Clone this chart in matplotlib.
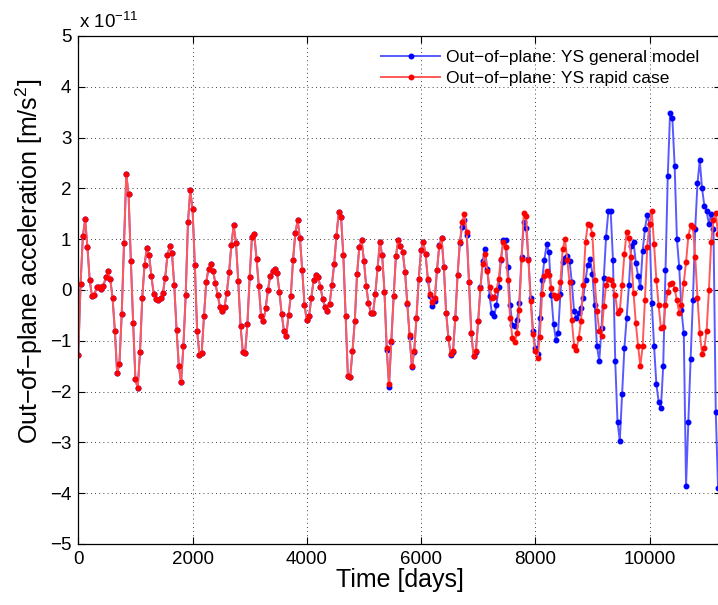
import numpy as np
import matplotlib
matplotlib.use("Agg")
import matplotlib.pyplot as plt

plt.rcParams["font.family"] = ["Liberation Sans", "DejaVu Sans"]
plt.rcParams["mathtext.fontset"] = "custom"
plt.rcParams["mathtext.rm"] = "Liberation Sans"
plt.rcParams["mathtext.it"] = "Liberation Sans:italic"

# sampling step of the time series [days]
STEP = 40

# out-of-plane acceleration [1e-11 m/s^2], both solutions identical up to day 5200
common = [
    -1.27, 0.12, 1.06, 1.39, 0.84, 0.19, -0.12, -0.10, 0.05, 0.06,
    0.01, 0.08, 0.25, 0.37, 0.21, -0.16, -0.80, -1.64, -1.45, -0.48,
    0.93, 2.28, 1.88, 0.58, -0.64, -1.76, -1.93, -1.23, -0.15, 0.50,
    0.82, 0.68, 0.27, -0.08, -0.18, -0.19, -0.16, -0.06, 0.23, 0.68,
    0.86, 0.72, 0.09, -0.78, -1.50, -1.82, -1.10, -0.10, 1.33, 1.96,
    1.60, 0.50, -0.80, -1.27, -1.24, -0.52, 0.16, 0.42, 0.51, 0.38,
    0.13, -0.10, -0.33, -0.41, -0.33, -0.05, 0.35, 0.89, 1.27, 0.93,
    0.18, -0.70, -1.22, -1.24, -0.67, 0.25, 1.05, 1.10, 0.62, 0.08,
    -0.51, -0.62, -0.36, 0.00, 0.28, 0.38, 0.42, 0.33, -0.03, -0.47,
    -0.80, -0.90, -0.50, -0.12, 0.60, 1.13, 1.37, 1.02, 0.40, -0.29,
    -0.60, -0.52, -0.15, 0.20, 0.30, 0.25, 0.05, -0.18, -0.33, -0.41,
    -0.27, 0.10, 0.52, 1.07, 1.54, 1.44, 0.68, -0.52, -1.70, -1.72,
    -1.20, -0.62, 0.31, 0.85, 0.98, 0.58, 0.08, -0.25, -0.45, -0.45,
    -0.07,
]

# from day 5240 on
general_tail = [
    0.44, 0.95, 0.68, -0.03, -1.18, -1.90, -1.02, -0.12, 0.66, 0.98,
    0.87, 0.74, 0.36, -0.28, -0.92, -1.52, -1.22, -0.55, 0.22, 0.78,
    0.94, 0.70, 0.20, -0.12, -0.31, -0.22, 0.40, 0.88, 1.03, 0.45,
    -0.45, -0.95, -1.28, -1.22, -0.55, 0.30, 0.92, 1.25, 1.38, 1.08,
    0.15, -0.85, -1.30, -1.22, -0.62, 0.05, 0.58, 0.80, 0.42, -0.12,
    -0.45, -0.51, -0.30, 0.05, 0.60, 0.98, 0.98, 0.45, -0.30, -0.68,
    -0.71, -0.60, -0.25, 0.65, 1.33, 1.22, 0.62, -0.15, -0.80, -1.15,
    -1.25, -0.55, 0.20, 0.60, 0.90, 0.75, -0.10, -0.66, -0.98, -0.85,
    -0.08, 0.55, 0.63, 0.67, 0.58, 0.15, -0.42, -0.55, -0.46, -0.35,
    -0.15, 0.20, 0.50, 0.62, 0.32, -0.30, -1.10, -1.40, -0.75, 0.24,
    1.05, 1.55, 1.56, 0.60, -1.40, -2.60, -2.97, -2.05, -1.15, -0.55,
    0.10, 0.87, 0.95, 0.54, 0.28, 0.05, 0.77, 1.20, 1.48, 1.30,
    -0.25, -1.10, -1.85, -2.20, -2.32, -1.50, 0.40, 2.25, 3.48, 3.38,
    2.45, 1.00, 0.45, -0.40, -0.85, -3.85, -2.60, -1.35, -0.20, 1.20,
    2.10, 2.55, 2.00, 1.66, 1.55, 1.30, 1.50, 1.20, -2.40, -3.90,
]

rapid_tail = [
    0.44, 0.95, 0.68, -0.03, -1.15, -1.85, -1.00, -0.12, 0.66, 0.98,
    0.87, 0.74, 0.36, -0.26, -0.89, -1.50, -1.20, -0.55, 0.22, 0.78,
    0.94, 0.70, 0.22, -0.08, -0.23, -0.15, 0.40, 0.87, 1.02, 0.45,
    -0.45, -0.95, -1.26, -1.20, -0.55, 0.30, 0.95, 1.33, 1.50, 1.15,
    0.15, -0.85, -1.30, -1.20, -0.62, 0.03, 0.52, 0.70, 0.38, 0.05,
    -0.15, -0.14, 0.00, 0.22, 0.62, 0.95, 0.85, 0.20, -0.55, -0.94,
    -1.03, -0.84, -0.40, 0.62, 1.52, 1.45, 0.60, -0.22, -0.86, -1.20,
    -1.34, -0.92, -0.07, 0.28, 0.38, 0.30, 0.03, -0.10, -0.15, -0.12,
    0.15, 0.80, 1.00, 0.60, 0.15, -0.60, -1.10, -1.18, -0.95, -0.62,
    0.10, 0.95, 1.30, 1.28, 1.10, 0.20, -0.42, -0.80, -0.90, -0.32,
    0.10, 0.21, 0.20, 0.09, -0.10, -0.45, -0.40, 0.10, 0.70, 1.15,
    1.03, 0.64, -0.05, -0.65, -1.10, -1.50, -1.10, -0.20, 0.85, 1.30,
    1.55, 0.90, 0.20, -0.30, -0.75, -0.73, -0.30, -0.03, 0.12, 0.14,
    0.02, -0.20, -0.45, -0.30, 0.14, 0.55, 1.06, 1.27, 1.24, 0.65,
    -0.15, -0.84, -1.26, -1.15, -0.80, 0.00, 0.95, 1.38, 1.52, 1.10,
]

general = np.array(common + general_tail)
rapid = np.array(common + rapid_tail)
days = np.arange(len(general)) * STEP

W, H = 718, 605
fig = plt.figure(figsize=(W / 100, H / 100), dpi=100)
ax = fig.add_axes([78.3 / W, 61 / H, 642.6 / W, 508 / H])

ax.plot(days, general, color=(0.35, 0.35, 1.0), lw=1.4, marker=".", ms=6.5,
        mfc="b", mec="b", label="Out\u2212of\u2212plane: YS general model")
ax.plot(days, rapid, color=(1.0, 0.35, 0.35), lw=1.4, marker=".", ms=6.5,
        mfc="r", mec="r", label="Out\u2212of\u2212plane: YS rapid case")

ax.set_xlim(0, 11250)
ax.set_ylim(-5, 5)
ax.set_xticks([0, 2000, 4000, 6000, 8000, 10000])
ax.set_yticks(range(-5, 6))
ax.tick_params(direction="in", top=True, right=True, length=5, width=0.8,
               labelsize=13.5, pad=5)
ax.grid(True, color="k", linestyle=(0, (1, 4)), linewidth=0.6)
for s in ax.spines.values():
    s.set_linewidth(0.9)

fig.text(29 / W, 1 - 261 / H, "Out\u2212of\u2212plane acceleration [m/s$^2$]",
         rotation=90, ha="center", va="center", fontsize=18)
fig.text(400 / W, 1 - 580 / H, "Time [days]", ha="center", va="center", fontsize=18)
fig.text(79 / W, 1 - 28 / H, r"x 10$^{-11}$", ha="left", va="baseline", fontsize=13.5)

ax.legend(loc="upper left", bbox_to_anchor=(381 / W, 1 - 50 / H),
          bbox_transform=fig.transFigure, frameon=False, fontsize=12.5,
          numpoints=1, handlelength=3.4, handletextpad=0.35,
          borderpad=0, borderaxespad=0, labelspacing=0.35)

fig.savefig("out.png", dpi=100)
